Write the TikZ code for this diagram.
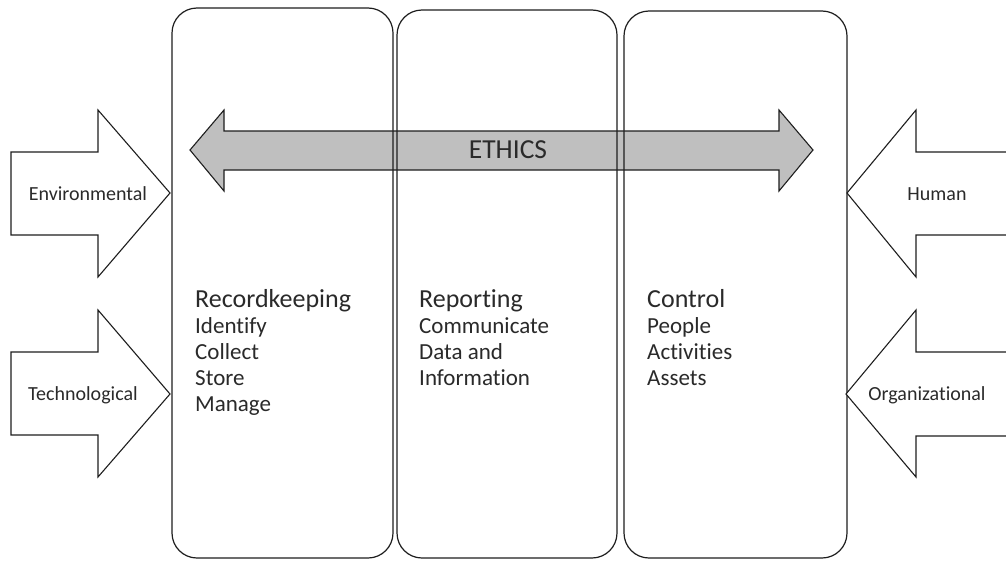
\documentclass[tikz,border=0pt]{standalone}
\usepackage{fontspec}
\setmainfont{Carlito}[Ligatures=NoCommon]
\definecolor{linec}{HTML}{1E1E1E}
\definecolor{textc}{HTML}{2A2A2A}
\definecolor{ethgray}{HTML}{BFBFBF}
\begin{document}
\begin{tikzpicture}[x=1pt,y=-1pt,
  box/.style={draw=linec, line width=1.2pt, rounded corners=25pt, inner sep=0, outer sep=0},
  fatarrow/.style={draw=linec, line width=1.1pt, fill=white, line join=miter},
  etharrow/.style={draw=linec, line width=1.1pt, fill=ethgray, line join=miter},
  side/.style={text=textc, inner sep=0, font=\fontsize{20}{23}\selectfont},
  item/.style={text=textc, inner sep=0, anchor=base west, font=\fontsize{23}{26}\selectfont},
  colhead/.style={text=textc, inner sep=0, anchor=base west, font=\fontsize{26}{28}\selectfont}
]
\clip (0,0) rectangle (1006,562);
\fill[white] (0,0) rectangle (1006,562);

% ETHICS double arrow
\draw[etharrow] (190,150) -- (224,110) -- (224,131) -- (779,131) -- (779,110) -- (813,150)
  -- (779,191) -- (779,170) -- (224,170) -- (224,191) -- cycle;
\node[text=textc, inner sep=0, font=\fontsize{27.5}{30}\selectfont] (ethics) at (508,150) {ETHICS};

% three columns
\node[box, minimum width=221pt, minimum height=550pt] (rk) at (282.5,283) {};
\node[box, minimum width=220pt, minimum height=548pt] (rp) at (507,284) {};
\node[box, minimum width=223pt, minimum height=547pt] (ct) at (735.5,284.5) {};

\node[colhead] (rkh) at (195,307) {Recordkeeping};
\foreach \t [count=\i] in {Identify,Collect,Store,Manage}
  \node[item] (rk\i) at (195,{307+26*\i}) {\t};
\node[colhead] (rph) at (419,307) {Reporting};
\foreach \t [count=\i] in {Communicate,Data and,Information}
  \node[item] (rp\i) at (419,{307+26*\i}) {\t};
\node[colhead] (cth) at (647,307) {Control};
\foreach \t [count=\i] in {People,Activities,Assets}
  \node[item] (ct\i) at (647,{307+26*\i}) {\t};

% left arrows
\draw[fatarrow] (11,152) -- (98,152) -- (98,110) -- (170,193) -- (98,277) -- (98,235) -- (11,235) -- cycle;
\draw[fatarrow] (11,352) -- (98,352) -- (98,310) -- (170,394) -- (98,477) -- (98,435) -- (11,435) -- cycle;
\node[side] (env) at (88,194) {Environmental};
\node[side] (tech) at (83,395) {Technological};

% right arrows
\draw[fatarrow] (1015,152) -- (916,152) -- (916,110) -- (847,193) -- (916,277) -- (916,235) -- (1015,235) -- cycle;
\draw[fatarrow] (1015,352) -- (916,352) -- (916,310) -- (846,394) -- (916,477) -- (916,436) -- (1015,436) -- cycle;
\node[side] (hum) at (937,194) {Human};
\node[side] (org) at (927,395) {Organizational};
\end{tikzpicture}
\end{document}
